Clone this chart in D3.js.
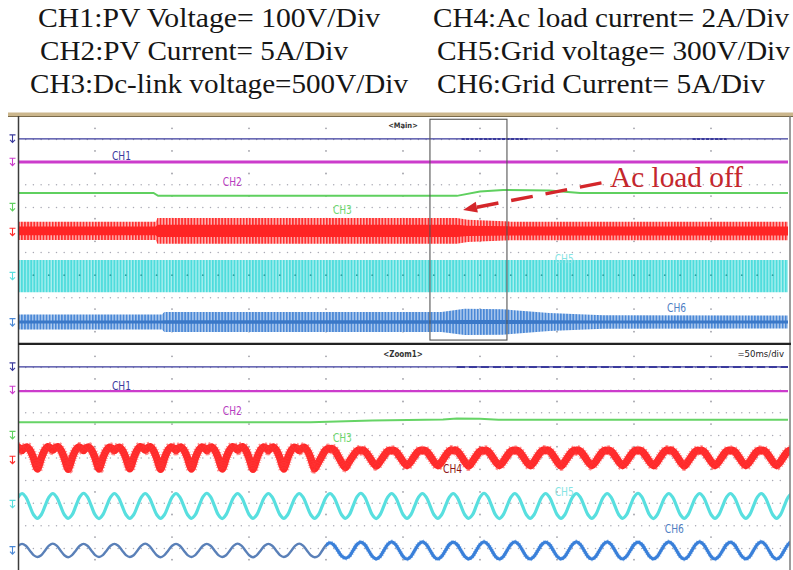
<!DOCTYPE html>
<html>
<head>
<meta charset="utf-8">
<script src="https://cdn.jsdelivr.net/npm/d3@7"></script>
<style>
  html, body { margin: 0; background: #fff; }
  svg { display: block; }
</style>
</head>
<body>
<svg id="scope" width="793" height="570"></svg>
<script>
// ---------- channel settings ----------
const headerLeft  = ["CH1:PV Voltage= 100V/Div", "CH2:PV Current= 5A/Div", "CH3:Dc-link voltage=500V/Div"];
const headerRight = ["CH4:Ac load current= 2A/Div", "CH5:Grid voltage= 300V/Div", "CH6:Grid Current= 5A/Div"];
const channelNames = ["CH1", "CH2", "CH3", "CH4", "CH5", "CH6"];
const markerLevels = [0.97, 2.0, 4.0, 5.1, 7.05, 9.1];       // ground marks, div
const annotationText = "Ac load off";

// ---------- main window (500 ms/div) ----------
const mainTime = [0, 5000];
const zoomWindow = [2675, 3175];                               // ms shown in Zoom1
const mainCH1 = [[0, 0.97], [5000, 0.97]];
const mainCH1Busy = [[2880, 3320], [4380, 4600]];
const mainCH2 = [[0, 1.99], [5000, 1.99]];
const mainCH3 = [[0, 3.36], [880, 3.36], [910, 3.49], [2850, 3.49], [3000, 3.3], [3150, 3.23],
                 [3450, 3.25], [3650, 3.36], [5000, 3.36]];
// banded traces: [ms, outer half-width div, inner half-width div]
const mainCH4Center = 5.04;
const mainCH4Env = [[0, 0.4, 0.19], [895, 0.4, 0.19], [905, 0.57, 0.27], [2850, 0.57, 0.27],
                    [2920, 0.49, 0.23], [3200, 0.41, 0.2], [5000, 0.41, 0.2]];
const mainCH5Center = 7.04;
const mainCH5Env = [[0, 0.71, 0], [5000, 0.71, 0]];
const mainCH6Center = 9.07;
const mainCH6Env = [[0, 0.33, 0.07], [935, 0.33, 0.07], [950, 0.44, 0.08], [2750, 0.44, 0.08],
                    [2900, 0.58, 0.09], [3150, 0.56, 0.09], [3450, 0.4, 0.08], [3800, 0.3, 0.07],
                    [5000, 0.29, 0.07]];
const loadOffPoint = [2890, 4.11];                              // arrow tip (ms, div)
const annotationPoint = [3844, 3.1];                            // text baseline (ms, div)

// ---------- zoom window (50 ms/div) ----------
const zoomTime = [0, 500];
const zoomCH1 = [[0, 0.97], [500, 0.97]];
const zoomCH1Busy = [[285, 500]];
const zoomCH2 = [[0, 2.04], [500, 2.04]];
const zoomCH3 = [[0, 3.42], [190, 3.42], [230, 3.34], [276, 3.3], [285, 3.25], [300, 3.26],
                 [312, 3.31], [500, 3.31]];
const linePeriod = 20;          // ms (50 Hz)
const firstPeak = -17.4;        // ms, peak of the first listed cycle
// one cycle, phase 0 = positive peak, value relative to cycle amplitude
const loadCycleHeavy = [[-0.5, -1], [-0.44, -0.6], [-0.36, 0.1], [-0.26, 0.7], [-0.16, 1], [-0.07, 0.88],
                        [0, 0.68], [0.07, 0.88], [0.16, 1], [0.26, 0.7], [0.36, 0.1], [0.44, -0.6], [0.5, -1]];
const loadCycleLight = [[-0.5, -1], [-0.4, -0.6], [-0.28, 0.1], [-0.15, 0.8], [-0.06, 1], [0, 0.92],
                        [0.06, 1], [0.15, 0.8], [0.28, 0.1], [0.4, -0.6], [0.5, -1]];
const sineCycle = [[-0.5, -1], [-0.375, -0.71], [-0.25, 0], [-0.125, 0.71], [0, 1], [0.125, 0.71],
                   [0.25, 0], [0.375, -0.71], [0.5, -1]];
const zoomCH4Center = 5.0;
const zoomCH4HeavyCycles = 11;
const zoomCH4Amp = [0.49, 0.49, 0.5, 0.49, 0.48, 0.5, 0.49, 0.49, 0.5, 0.49, 0.48, 0.42,
                    0.35, 0.34, 0.34, 0.35, 0.34, 0.34, 0.35, 0.34, 0.34, 0.34, 0.35, 0.34, 0.34, 0.34, 0.34];
const zoomCH5Center = 7.12;
const zoomCH5Amp = [0.55, 0.55, 0.55, 0.56, 0.55, 0.55, 0.55, 0.56, 0.55, 0.55, 0.55, 0.55, 0.56,
                    0.55, 0.55, 0.55, 0.56, 0.55, 0.55, 0.55, 0.55, 0.56, 0.55, 0.55, 0.55, 0.55, 0.55];
const zoomCH6Center = 9.09;
const zoomCH6Amp = [0.29, 0.29, 0.3, 0.29, 0.29, 0.3, 0.29, 0.29, 0.3, 0.29, 0.3, 0.34,
                    0.37, 0.38, 0.38, 0.37, 0.38, 0.38, 0.37, 0.38, 0.38, 0.37, 0.38, 0.38, 0.37, 0.38, 0.38];
const zoomLoadOff = 200;        // ms

// ---------- geometry ----------
const screenL = 18, screenR = 788, frameR = 790;
const mainTop = 117, mainBottom = 343, zoomTop = 345, zoomBottom = 571;

const colors = {
  ch1: "#3a3a9c", ch2: "#cc3ccc", ch3: "#5fd05f", ch4: "#ff2a2a", ch5: "#58dfdf", ch6: "#4a88d6"
};
const labelColors = ["#3b3b9e", "#b83cc0", "#6fd86f", "#8e1414", "#86e4e4", "#4f80c4"];

const svg = d3.select("#scope");
const defs = svg.append("defs");

const xDiv = d3.scaleLinear().domain([0, 10]).range([screenL, screenR]);
const xMain = d3.scaleLinear().domain(mainTime).range([screenL, screenR]);
const xZoom = d3.scaleLinear().domain(zoomTime).range([screenL, screenR]);
const yMain = d3.scaleLinear().domain([0, 10]).range([mainTop, mainBottom]);
const yZoom = d3.scaleLinear().domain([0, 10]).range([zoomTop, zoomBottom]);

// stripe fills for the compressed (banded) traces
function stripe(id, bg, fg, w) {
  const p = defs.append("pattern").attr("id", id).attr("patternUnits", "userSpaceOnUse")
    .attr("x", screenL).attr("y", 0).attr("width", 3.08).attr("height", 40);
  p.append("rect").attr("width", 3.08).attr("height", 40).attr("fill", bg);
  p.append("rect").attr("width", w).attr("height", 40).attr("fill", fg);
}
stripe("stRed", "#ffb4b4", "#ff2e2e", 1.7);
stripe("stCyan", "#a8efef", "#4edcdc", 1.8);
stripe("stBlue", "#b2ccee", "#4a88d6", 1.7);

function clip(id, x0, y0, x1, y1) {
  defs.append("clipPath").attr("id", id).append("rect")
    .attr("x", x0).attr("y", y0).attr("width", x1 - x0).attr("height", y1 - y0);
}
clip("clipMain", screenL, mainTop, frameR, mainBottom);
clip("clipZoom", screenL, zoomTop, frameR, 570);
clip("clipZoomPre", screenL, zoomTop, xZoom(zoomLoadOff), 570);
clip("clipZoomPost", xZoom(zoomLoadOff), zoomTop, frameR, 570);

// ---------- header ----------
const headerFont = "'Liberation Serif', 'Times New Roman', serif";
const headerPos = [
  [{ x: 38, y: 27, w: 342 }, { x: 40, y: 60, w: 308 }, { x: 30, y: 93, w: 378 }],
  [{ x: 433, y: 27, w: 356 }, { x: 437, y: 60, w: 353 }, { x: 437, y: 93, w: 328 }]
];
[headerLeft, headerRight].forEach((col, c) => {
  col.forEach((t, i) => {
    const p = headerPos[c][i];
    svg.append("text").attr("x", p.x).attr("y", p.y)
      .attr("font-family", headerFont).attr("font-size", 28).attr("fill", "#161616")
      .attr("textLength", p.w).attr("lengthAdjust", "spacingAndGlyphs").text(t);
  });
});

// ---------- screen frame ----------
svg.append("rect").attr("x", 8).attr("y", 112.5).attr("width", 785).attr("height", 3.5).attr("fill", "#cbb68c");
svg.append("line").attr("x1", 8).attr("x2", 793).attr("y1", 116.5).attr("y2", 116.5)
  .attr("stroke", "#7a6a4a").attr("stroke-width", 1);

// ---------- grid ----------
function grid(y) {
  const g = svg.append("g");
  const rows = d3.range(1, 10);
  const cols = d3.range(1, 100).map(i => i / 10);
  rows.forEach(r => {
    g.selectAll(null).data(cols).join("circle")
      .attr("cx", d => xDiv(d)).attr("cy", y(r)).attr("r", 0.75).attr("fill", "#a9a9b4");
  });
  const vcols = d3.range(1, 10);
  const vrows = d3.range(0, 10).map(k => k + 0.5);
  vcols.forEach(c => {
    g.selectAll(null).data(vrows).join("circle")
      .attr("cx", xDiv(c)).attr("cy", d => y(d)).attr("r", 0.9).attr("fill", "#a0a0a8");
  });
  return g;
}
grid(yMain);
grid(yZoom);

// ---------- helpers ----------
function dcTrace(g, pts, xs, y, color, width) {
  g.append("path").datum(pts)
    .attr("d", d3.line().x(d => xs(d[0])).y(d => y(d[1])))
    .attr("fill", "none").attr("stroke", color).attr("stroke-width", width);
}
function busyTrace(g, spans, level, xs, y, color, width, dash) {
  spans.forEach(s => {
    g.append("line").attr("x1", xs(s[0])).attr("x2", xs(s[1]))
      .attr("y1", y(level)).attr("y2", y(level))
      .attr("stroke", color).attr("stroke-width", width).attr("stroke-dasharray", dash);
  });
}
function bandTrace(g, env, center, xs, y, fillId, core) {
  g.append("path").datum(env)
    .attr("d", d3.area().x(d => xs(d[0])).y0(d => y(center - d[1])).y1(d => y(center + d[1])))
    .attr("fill", `url(#${fillId})`);
  if (core) {
    g.append("path").datum(env)
      .attr("d", d3.area().x(d => xs(d[0])).y0(d => y(center - d[2])).y1(d => y(center + d[2])))
      .attr("fill", core);
  }
}
function cyclePoints(templateFor, amps, center) {
  const pts = [];
  amps.forEach((a, i) => {
    const tPeak = firstPeak + i * linePeriod;
    templateFor(i).forEach(([ph, v], j) => {
      if (i > 0 && j === 0) return;
      pts.push([tPeak + ph * linePeriod, center - v * a]);
    });
  });
  return pts;
}
const acLine = d3.line().x(d => xZoom(d[0])).y(d => yZoom(d[1])).curve(d3.curveCatmullRom.alpha(0.5));

function marker(y, level, color) {
  const yy = y(level);
  svg.append("path")
    .attr("d", `M9.5,${yy - 4} h6 M12.5,${yy - 4} v7 M10,${yy + 1} l2.5,2.5 l2.5,-2.5`)
    .attr("fill", "none").attr("stroke", color).attr("stroke-width", 1.1);
}
function labels(y, positions) {
  positions.forEach(p => {
    svg.append("text").attr("x", xDiv(p.x)).attr("y", y(p.y))
      .attr("font-family", "'Liberation Sans Narrow', 'DejaVu Sans Condensed', sans-serif")
      .attr("font-size", 13).attr("fill", labelColors[p.ch])
      .attr("textLength", 19).attr("lengthAdjust", "spacingAndGlyphs")
      .text(channelNames[p.ch]);
  });
}

// ---------- main panel traces ----------
const gMain = svg.append("g").attr("clip-path", "url(#clipMain)");
dcTrace(gMain, mainCH1, xMain, yMain, colors.ch1, 1.3);
busyTrace(gMain, mainCH1Busy, mainCH1[0][1], xMain, yMain, colors.ch1, 2, "3 1.5");
dcTrace(gMain, mainCH2, xMain, yMain, colors.ch2, 3);
dcTrace(gMain, mainCH3, xMain, yMain, colors.ch3, 2);
bandTrace(gMain, mainCH4Env, mainCH4Center, xMain, yMain, "stRed", "#ff2424");
bandTrace(gMain, mainCH5Env, mainCH5Center, xMain, yMain, "stCyan", null);
bandTrace(gMain, mainCH6Env, mainCH6Center, xMain, yMain, "stBlue", "#3a78c8");
// row 7 graticule shows through the grid-voltage band
gMain.selectAll(null).data(d3.range(1, 50).map(i => i / 5)).join("circle")
  .attr("cx", d => xDiv(d)).attr("cy", yMain(7)).attr("r", 0.9).attr("fill", "#2f9f9f");

// zoom window outline
svg.append("rect")
  .attr("x", xMain(zoomWindow[0])).attr("y", yMain(0.1))
  .attr("width", xMain(zoomWindow[1]) - xMain(zoomWindow[0]))
  .attr("height", yMain(9.87) - yMain(0.1))
  .attr("fill", "none").attr("stroke", "#555").attr("stroke-width", 1.1);

// ---------- zoom panel traces ----------
const gZoom = svg.append("g").attr("clip-path", "url(#clipZoom)");
dcTrace(gZoom, zoomCH1, xZoom, yZoom, colors.ch1, 1.3);
busyTrace(gZoom, zoomCH1Busy, zoomCH1[0][1], xZoom, yZoom, colors.ch1, 2, "8 4");
dcTrace(gZoom, zoomCH2, xZoom, yZoom, colors.ch2, 2.3);
dcTrace(gZoom, zoomCH3, xZoom, yZoom, "#66d466", 2);

const ch4Pts = cyclePoints(i => i < zoomCH4HeavyCycles ? loadCycleHeavy : loadCycleLight, zoomCH4Amp, zoomCH4Center);
gZoom.append("path").datum(ch4Pts).attr("d", acLine)
  .attr("fill", "none").attr("stroke", colors.ch4).attr("stroke-width", 7.5).attr("stroke-linejoin", "round");
gZoom.append("path").datum(ch4Pts).attr("d", acLine)
  .attr("fill", "none").attr("stroke", "#ff3a3a").attr("stroke-width", 10).attr("stroke-opacity", 0.55)
  .attr("stroke-dasharray", "0.8 1.7");

const ch5Pts = cyclePoints(() => sineCycle, zoomCH5Amp, zoomCH5Center);
gZoom.append("path").datum(ch5Pts).attr("d", acLine)
  .attr("fill", "none").attr("stroke", colors.ch5).attr("stroke-width", 3.2);

const ch6Pts = cyclePoints(() => sineCycle, zoomCH6Amp, zoomCH6Center);
svg.append("g").attr("clip-path", "url(#clipZoomPre)")
  .append("path").datum(ch6Pts).attr("d", acLine)
  .attr("fill", "none").attr("stroke", "#5a80b8").attr("stroke-width", 2.4);
const gPost = svg.append("g").attr("clip-path", "url(#clipZoomPost)");
gPost.append("path").datum(ch6Pts).attr("d", acLine)
  .attr("fill", "none").attr("stroke", "#3a80da").attr("stroke-width", 3.2);
gPost.append("path").datum(ch6Pts).attr("d", acLine)
  .attr("fill", "none").attr("stroke", "#3a80da").attr("stroke-width", 4.6).attr("stroke-opacity", 0.5)
  .attr("stroke-dasharray", "0.8 1.6");

// ---------- panel borders ----------
svg.append("line").attr("x1", screenL + 0.5).attr("x2", screenL + 0.5).attr("y1", 116).attr("y2", 570)
  .attr("stroke", "#3c3c3c").attr("stroke-width", 1.5);
svg.append("line").attr("x1", frameR).attr("x2", frameR).attr("y1", 116).attr("y2", 570)
  .attr("stroke", "#7c7c7c").attr("stroke-width", 1.5);
svg.append("line").attr("x1", screenL).attr("x2", frameR + 1).attr("y1", 343.8).attr("y2", 343.8)
  .attr("stroke", "#222").attr("stroke-width", 2.2);

// ---------- screen texts ----------
const tinyFont = "'DejaVu Sans Condensed', 'Liberation Sans', sans-serif";
svg.append("text").attr("x", xDiv(5)).attr("y", 128).attr("text-anchor", "middle")
  .attr("font-family", tinyFont).attr("font-size", 7.5).attr("font-weight", "bold").attr("fill", "#333")
  .text("<Main>");
svg.append("text").attr("x", xDiv(5)).attr("y", 357).attr("text-anchor", "middle")
  .attr("font-family", tinyFont).attr("font-size", 8).attr("font-weight", "bold").attr("fill", "#333")
  .text("<Zoom1>");
svg.append("text").attr("x", 784).attr("y", 357).attr("text-anchor", "end")
  .attr("font-family", tinyFont).attr("font-size", 9.5).attr("fill", "#222")
  .text("=50ms/div");

// channel labels
labels(yMain, [{ ch: 0, x: 1.22, y: 1.9 }, { ch: 1, x: 2.66, y: 3.07 }, { ch: 2, x: 4.09, y: 4.28 },
               { ch: 4, x: 6.97, y: 6.45 }, { ch: 5, x: 8.43, y: 8.62 }]);
labels(yZoom, [{ ch: 0, x: 1.22, y: 2.0 }, { ch: 1, x: 2.66, y: 3.1 }, { ch: 2, x: 4.09, y: 4.3 },
               { ch: 3, x: 5.52, y: 5.66 }, { ch: 4, x: 6.97, y: 6.7 }, { ch: 5, x: 8.4, y: 8.32 }]);

// ground markers
[yMain, yZoom].forEach(y => {
  markerLevels.forEach((lv, i) => marker(y, lv, Object.values(colors)[i]));
});

// ---------- annotation ----------
const tip = [xMain(loadOffPoint[0]), yMain(loadOffPoint[1])];
const tail = [xMain(annotationPoint[0]) - 4, yMain(annotationPoint[1]) - 5];
const ang = Math.atan2(tail[1] - tip[1], tail[0] - tip[0]);
const headLen = 14, headW = 5.5;
const base = [tip[0] + headLen * Math.cos(ang), tip[1] + headLen * Math.sin(ang)];
svg.append("line").attr("x1", base[0]).attr("y1", base[1]).attr("x2", tail[0]).attr("y2", tail[1])
  .attr("stroke", "#d4262a").attr("stroke-width", 3.4).attr("stroke-dasharray", "22 13");
svg.append("path")
  .attr("d", `M${tip[0]},${tip[1]} L${base[0] - headW * Math.sin(ang)},${base[1] + headW * Math.cos(ang)} ` +
             `L${base[0] + headW * Math.sin(ang)},${base[1] - headW * Math.cos(ang)} Z`)
  .attr("fill", "#d4262a");
svg.append("text").attr("x", xMain(annotationPoint[0])).attr("y", yMain(annotationPoint[1]))
  .attr("font-family", headerFont).attr("font-size", 30).attr("fill", "#c4262c")
  .attr("textLength", 133).attr("lengthAdjust", "spacingAndGlyphs").text(annotationText);
</script>
</body>
</html>
